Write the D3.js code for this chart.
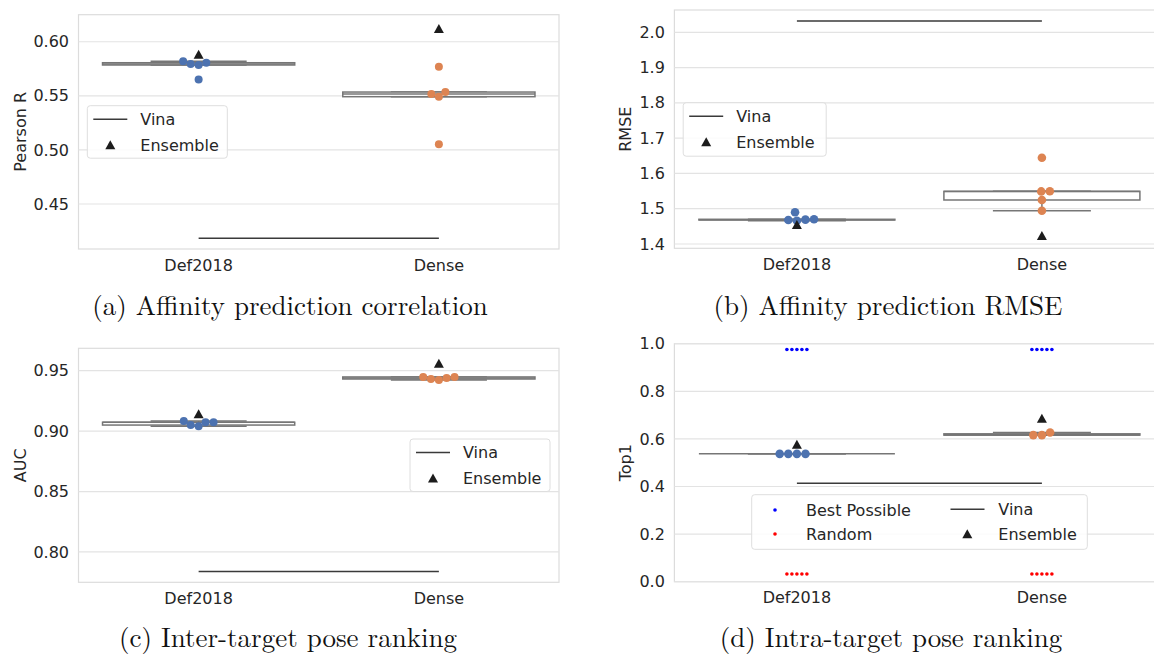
<!DOCTYPE html>
<html>
<head>
<meta charset="utf-8">
<script src="https://cdn.jsdelivr.net/npm/d3@7"></script>
<style>
  body { margin: 0; background: #fff; }
  svg { display: block; }
</style>
</head>
<body>
<svg id="fig" width="1154" height="658"></svg>
<script>
var models = ["Def2018", "Dense"];

// (a) affinity correlation
var pearson_def2018 = [0.5819, 0.5806, 0.5794, 0.5785, 0.5650];
var pearson_dense = [0.5769, 0.5535, 0.5517, 0.5492, 0.5052];
var pearson_ensemble = [0.588, 0.6117];
var pearson_vina = 0.4183;
var pearson_ticks = [0.45, 0.50, 0.55, 0.60];

// (b) affinity RMSE
var rmse_def2018 = [1.4898, 1.4700, 1.4690, 1.4680, 1.4660];
var rmse_dense = [1.6446, 1.5493, 1.5490, 1.5247, 1.4943];
var rmse_ensemble = [1.4538, 1.4226];
var rmse_vina = 2.032;
var rmse_ticks = [1.4, 1.5, 1.6, 1.7, 1.8, 1.9, 2.0];

// (c) inter-target pose ranking
var auc_def2018 = [0.9083, 0.9073, 0.9073, 0.9050, 0.9040];
var auc_dense = [0.9448, 0.9448, 0.9440, 0.9431, 0.9423];
var auc_ensemble = [0.9139, 0.9558];
var auc_vina = 0.7839;
var auc_ticks = [0.80, 0.85, 0.90, 0.95];

// (d) intra-target pose ranking
var top1_def2018 = [0.5372, 0.5372, 0.5372, 0.5372];
var top1_dense = [0.6268, 0.6159, 0.6159];
var top1_ensemble = [0.575, 0.6845];
var top1_vina = 0.414;
var top1_best = [0.9757, 0.9757, 0.9757, 0.9757, 0.9757];
var top1_random = [0.0324, 0.0324, 0.0324, 0.0324, 0.0324];
var top1_ticks = [0.0, 0.2, 0.4, 0.6, 0.8, 1.0];

var model_colors = ["#4c72b0", "#dd8452"];
var font = "'DejaVu Sans', sans-serif";
var serif = "'Latin Modern Roman', 'CMU Serif', 'Liberation Serif', serif";

var svg = d3.select("#fig");

function box_stats(values) {
  var s = values.slice().sort(d3.ascending);
  var q1 = d3.quantile(s, 0.25), med = d3.quantile(s, 0.5), q3 = d3.quantile(s, 0.75);
  var iqr = q3 - q1;
  return {
    q1: q1, med: med, q3: q3,
    lo: d3.min(s.filter(function(v) { return v >= q1 - 1.5 * iqr; })),
    hi: d3.max(s.filter(function(v) { return v <= q3 + 1.5 * iqr; }))
  };
}

// beeswarm: each point goes to the free spot nearest the centre
function swarm(values, cx, y, r) {
  var d = 2 * r, placed = [];
  values.slice().sort(d3.ascending).forEach(function(v) {
    var py = y(v);
    var near = placed.filter(function(p) { return Math.abs(p.y - py) < d; });
    var cands = [cx];
    near.forEach(function(p) {
      var dx = Math.sqrt(d * d - (p.y - py) * (p.y - py));
      cands.push(p.x - dx, p.x + dx);
    });
    cands.sort(function(a, b) {
      return Math.round(Math.abs(a - cx) * 1000) - Math.round(Math.abs(b - cx) * 1000);
    });
    var x = cands.find(function(c) {
      return near.every(function(p) {
        return (p.x - c) * (p.x - c) + (p.y - py) * (p.y - py) >= d * d - 0.01;
      });
    });
    placed.push({x: x, y: py});
  });
  return placed;
}

function triangle(g, x, y) {
  g.append("path")
    .attr("d", "M" + x + "," + (y - 5) + "L" + (x + 5) + "," + (y + 4) + "L" + (x - 5) + "," + (y + 4) + "Z")
    .attr("fill", "#1c1c1c");
}

function draw_panel(p) {
  var g = svg.append("g");
  var x = d3.scalePoint().domain(models).range([p.left, p.left + p.width]).padding(0.5);
  var y = d3.scaleLinear().domain(p.domain).range([p.top + p.height, p.top]);
  var step = x.step();

  g.append("rect")
    .attr("x", p.left).attr("y", p.top)
    .attr("width", p.width).attr("height", p.height)
    .attr("fill", "#fff").attr("stroke", "#dcdcdc").attr("stroke-width", 1.2);

  g.selectAll("line.grid").data(p.ticks).enter().append("line")
    .attr("x1", p.left).attr("x2", p.left + p.width)
    .attr("y1", function(d) { return y(d); }).attr("y2", function(d) { return y(d); })
    .attr("stroke", "#e3e3e3").attr("stroke-width", 1.2);

  g.selectAll("text.ytick").data(p.ticks).enter().append("text")
    .attr("x", p.left - 9.5).attr("y", function(d) { return y(d); })
    .attr("dy", "0.35em").attr("text-anchor", "end")
    .style("font-family", font).style("font-size", "16px").attr("fill", "#262626")
    .text(function(d) { return d3.format(p.fmt)(d); });

  g.selectAll("text.xtick").data(models).enter().append("text")
    .attr("x", function(d) { return x(d); }).attr("y", p.top + p.height + 21.5)
    .attr("text-anchor", "middle")
    .style("font-family", font).style("font-size", "16px").attr("fill", "#262626")
    .text(function(d) { return d; });

  g.append("text")
    .attr("transform", "translate(" + p.ylab_x + "," + (p.top + p.height / 2) + ") rotate(-90)")
    .attr("dy", "0.35em").attr("text-anchor", "middle")
    .style("font-family", font).style("font-size", "16px").attr("fill", "#262626")
    .text(p.ylabel);

  // boxes
  p.series.forEach(function(vals, i) {
    var cx = x(models[i]), s = box_stats(vals);
    var bw = 0.8 * step, cw = 0.4 * step, stroke = "#767676";
    var bg = g.append("g").attr("stroke", stroke).attr("stroke-width", 1.5).attr("fill", "none");
    bg.append("line").attr("x1", cx).attr("x2", cx).attr("y1", y(s.q3)).attr("y2", y(s.hi));
    bg.append("line").attr("x1", cx).attr("x2", cx).attr("y1", y(s.q1)).attr("y2", y(s.lo));
    bg.append("line").attr("x1", cx - cw / 2).attr("x2", cx + cw / 2).attr("y1", y(s.hi)).attr("y2", y(s.hi));
    bg.append("line").attr("x1", cx - cw / 2).attr("x2", cx + cw / 2).attr("y1", y(s.lo)).attr("y2", y(s.lo));
    bg.append("rect")
      .attr("x", cx - bw / 2).attr("y", y(s.q3))
      .attr("width", bw).attr("height", Math.max(0, y(s.q1) - y(s.q3)))
      .attr("fill", "#fff");
    bg.append("line").attr("x1", cx - bw / 2).attr("x2", cx + bw / 2).attr("y1", y(s.med)).attr("y2", y(s.med));
  });

  // extra reference dots (best possible / random)
  (p.extras || []).forEach(function(ex) {
    models.forEach(function(m) {
      g.selectAll(null).data(swarm(ex.values, x(m), y, 2.5)).enter().append("circle")
        .attr("cx", function(d) { return d.x; }).attr("cy", function(d) { return d.y; })
        .attr("r", 1.8).attr("fill", ex.color);
    });
  });

  // model dots
  p.series.forEach(function(vals, i) {
    g.selectAll(null).data(swarm(vals, x(models[i]), y, p.r)).enter().append("circle")
      .attr("cx", function(d) { return d.x; }).attr("cy", function(d) { return d.y; })
      .attr("r", p.r).attr("fill", model_colors[i]);
  });

  // vina baseline
  g.append("path")
    .datum(models)
    .attr("d", d3.line().x(function(m) { return x(m); }).y(function() { return y(p.vina); }))
    .attr("stroke", "#3a3a3a").attr("stroke-width", 1.5).attr("fill", "none");

  // ensemble
  p.ensemble.forEach(function(v, i) { triangle(g, x(models[i]), y(v)); });

  // legend
  var L = p.legend;
  var lg = g.append("g").attr("transform", "translate(" + L.x + "," + L.y + ")");
  lg.append("rect").attr("width", L.w).attr("height", L.h).attr("rx", 3)
    .attr("fill", "rgba(255,255,255,0.85)").attr("stroke", "#dedede").attr("stroke-width", 1);
  L.items.forEach(function(it) {
    if (it.kind == "line") {
      lg.append("line").attr("x1", it.mx - 17).attr("x2", it.mx + 17).attr("y1", it.y).attr("y2", it.y)
        .attr("stroke", "#3a3a3a").attr("stroke-width", 1.5);
    } else if (it.kind == "tri") {
      triangle(lg, it.mx, it.y);
    } else {
      lg.append("circle").attr("cx", it.mx).attr("cy", it.y).attr("r", 1.8).attr("fill", it.color);
    }
    lg.append("text").attr("x", it.tx).attr("y", it.y).attr("dy", "0.35em")
      .style("font-family", font).style("font-size", "16px").attr("fill", "#262626")
      .text(it.label);
  });

  svg.append("text")
    .attr("x", p.cap_x).attr("y", p.cap_y).attr("text-anchor", "middle")
    .style("font-family", serif).style("font-size", "27px")
    .attr("fill", "#111")
    .text(p.caption);
}

var vina_ens = [
  {kind: "line", mx: 23, tx: 53, y: 13.5, label: "Vina"},
  {kind: "tri", mx: 23, tx: 53, y: 39.5, label: "Ensemble"}
];

draw_panel({
  left: 78.5, top: 14.7, width: 480.5, height: 234.3, domain: [0.4084, 0.625],
  ticks: pearson_ticks, fmt: ".2f", ylabel: "Pearson R", ylab_x: 20.7, r: 4,
  series: [pearson_def2018, pearson_dense], ensemble: pearson_ensemble, vina: pearson_vina,
  legend: {x: 87.3, y: 105.7, w: 140, h: 52.5, items: vina_ens},
  caption: "(a) Affinity prediction correlation", cap_x: 290, cap_y: 315
});

draw_panel({
  left: 674.4, top: 10, width: 490, height: 238.3, domain: [1.3878, 2.0632],
  ticks: rmse_ticks, fmt: ".1f", ylabel: "RMSE", ylab_x: 625.8, r: 4.3,
  series: [rmse_def2018, rmse_dense], ensemble: rmse_ensemble, vina: rmse_vina,
  legend: {x: 683.2, y: 102.7, w: 143, h: 53.5, items: vina_ens},
  caption: "(b) Affinity prediction RMSE", cap_x: 888, cap_y: 315
});

draw_panel({
  left: 78.5, top: 348.3, width: 480.5, height: 234, domain: [0.7749, 0.9685],
  ticks: auc_ticks, fmt: ".2f", ylabel: "AUC", ylab_x: 20.7, r: 4,
  series: [auc_def2018, auc_dense], ensemble: auc_ensemble, vina: auc_vina,
  legend: {x: 410, y: 439, w: 140, h: 52.5, items: vina_ens},
  caption: "(c) Inter-target pose ranking", cap_x: 288, cap_y: 647
});

draw_panel({
  left: 674.4, top: 343.7, width: 490, height: 238, domain: [0, 1],
  ticks: top1_ticks, fmt: ".1f", ylabel: "Top1", ylab_x: 625.8, r: 4.3,
  series: [top1_def2018, top1_dense], ensemble: top1_ensemble, vina: top1_vina,
  extras: [{values: top1_best, color: "#0000ff"}, {values: top1_random, color: "#ff0000"}],
  legend: {x: 751.7, y: 494.7, w: 335.6, h: 54.6, items: [
    {kind: "dot", color: "#0000ff", mx: 23.3, tx: 54.3, y: 15.3, label: "Best Possible"},
    {kind: "dot", color: "#ff0000", mx: 23.3, tx: 54.3, y: 39.3, label: "Random"},
    {kind: "line", mx: 215.8, tx: 246.6, y: 14.6, label: "Vina"},
    {kind: "tri", mx: 215.6, tx: 246.6, y: 39.6, label: "Ensemble"}
  ]},
  caption: "(d) Intra-target pose ranking", cap_x: 891, cap_y: 647
});
</script>
</body>
</html>
